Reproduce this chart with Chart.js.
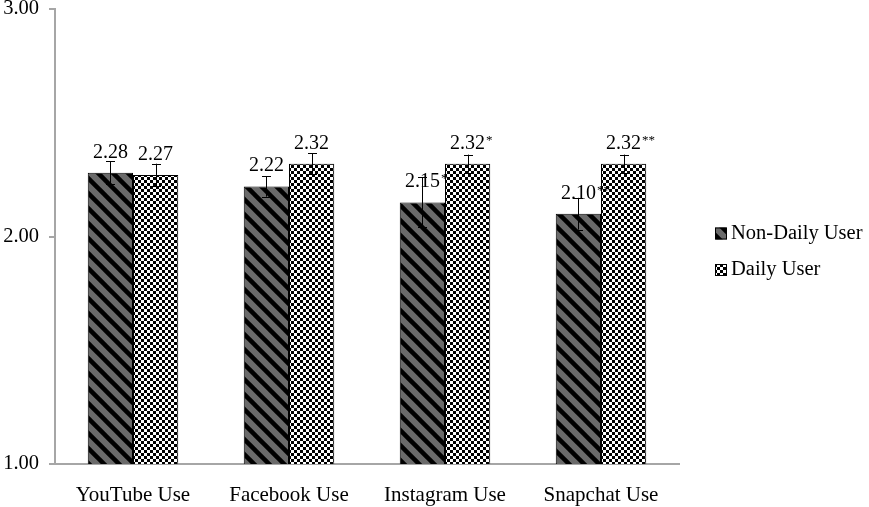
<!DOCTYPE html>
<html>
<head>
<meta charset="utf-8">
<script src="https://cdn.jsdelivr.net/npm/chart.js@4"></script>
<style>
html,body{margin:0;padding:0;background:#fff;}
#wrap{width:869px;height:507px;position:relative;}
</style>
</head>
<body>
<div id="wrap"><canvas id="c" width="869" height="507"></canvas></div>
<script>
const categories = ['YouTube Use', 'Facebook Use', 'Instagram Use', 'Snapchat Use'];
const seriesNames = ['Non-Daily User', 'Daily User'];
const nonDaily = [2.28, 2.22, 2.15, 2.10];
const daily = [2.27, 2.32, 2.32, 2.32];
const nonDailyErr = [0.05, 0.045, 0.11, 0.07];
const dailyErr = [0.05, 0.045, 0.04, 0.04];
const nonDailySig = ['', '', '*', '**'];
const dailySig = ['', '', '*', '**'];
const yTicks = [1, 2, 3];

const FONT = '"Liberation Serif", "Times New Roman", serif';

function stripePattern() {
  const s = 15;
  const c = document.createElement('canvas');
  c.width = s; c.height = s;
  const g = c.getContext('2d');
  g.fillStyle = '#6a6a6a';
  g.fillRect(0, 0, s, s);
  g.strokeStyle = '#000';
  g.lineWidth = 4.5;
  for (let k = -1; k <= 1; k++) {
    g.beginPath();
    g.moveTo(k * s - 2, -2);
    g.lineTo(k * s + s + 2, s + 2);
    g.stroke();
  }
  return g.createPattern(c, 'repeat');
}
function checkerPattern() {
  const q = 3;
  const c = document.createElement('canvas');
  c.width = q * 2; c.height = q * 2;
  const g = c.getContext('2d');
  g.fillStyle = '#fff';
  g.fillRect(0, 0, q * 2, q * 2);
  g.fillStyle = '#000';
  g.fillRect(0, 0, q, q);
  g.fillRect(q, q, q, q);
  return g.createPattern(c, 'repeat');
}
const stripes = stripePattern();
const checks = checkerPattern();

const errs = [nonDailyErr, dailyErr];
const sigs = [nonDailySig, dailySig];

const annotatePlugin = {
  id: 'annotate',
  afterDatasetsDraw(chart) {
    const ctx = chart.ctx;
    const y = chart.scales.y;
    chart.data.datasets.forEach((ds, di) => {
      const meta = chart.getDatasetMeta(di);
      meta.data.forEach((bar, i) => {
        const v = ds.data[i];
        const e = errs[di][i];
        const x = bar.x;
        const yt = y.getPixelForValue(v + e);
        const yb = y.getPixelForValue(v - e);
        ctx.save();
        ctx.strokeStyle = '#000';
        ctx.lineWidth = 1;
        ctx.beginPath();
        ctx.moveTo(Math.round(x) + 0.5, yt);
        ctx.lineTo(Math.round(x) + 0.5, yb);
        ctx.moveTo(Math.round(x) - 4, Math.round(yt) + 0.5);
        ctx.lineTo(Math.round(x) + 5, Math.round(yt) + 0.5);
        ctx.moveTo(Math.round(x) - 4, Math.round(yb) + 0.5);
        ctx.lineTo(Math.round(x) + 5, Math.round(yb) + 0.5);
        ctx.stroke();
        const txt = v.toFixed(2);
        ctx.font = '20px ' + FONT;
        ctx.fillStyle = '#000';
        ctx.textAlign = 'center';
        ctx.textBaseline = 'alphabetic';
        const by = bar.y - 15;
        ctx.fillText(txt, x, by);
        const w = ctx.measureText(txt).width;
        const s = sigs[di][i];
        if (s) {
          ctx.font = '13px ' + FONT;
          ctx.textAlign = 'left';
          ctx.fillText(s, x + w / 2 + 1, by - 5);
        }
        ctx.restore();
      });
    });
  }
};

const legendPlugin = {
  id: 'customLegend',
  afterDraw(chart) {
    const ctx = chart.ctx;
    const x0 = 715;
    const ys = [233.5, 270];
    chart.data.datasets.forEach((ds, di) => {
      const cy = ys[di];
      ctx.save();
      ctx.fillStyle = ds.backgroundColor;
      ctx.fillRect(x0, cy - 6, 12, 12);
      ctx.strokeStyle = '#000';
      ctx.lineWidth = 1;
      ctx.strokeRect(x0 + 0.5, cy - 5.5, 11, 11);
      ctx.fillStyle = '#000';
      ctx.font = '20.5px ' + FONT;
      ctx.textAlign = 'left';
      ctx.textBaseline = 'middle';
      ctx.fillText(ds.label, x0 + 16, cy);
      ctx.restore();
    });
  }
};

new Chart(document.getElementById('c'), {
  type: 'bar',
  data: {
    labels: categories,
    datasets: [
      { label: seriesNames[0], data: nonDaily, backgroundColor: stripes, borderColor: '#000', borderWidth: 1 },
      { label: seriesNames[1], data: daily, backgroundColor: checks, borderColor: '#000', borderWidth: 1 }
    ]
  },
  options: {
    responsive: false,
    animation: false,
    devicePixelRatio: 1,
    layout: { padding: { top: 0, right: 190, bottom: 0, left: 0 } },
    datasets: { bar: { categoryPercentage: 0.58, barPercentage: 1.0 } },
    plugins: {
      legend: { display: false },
      tooltip: { enabled: false }
    },
    scales: {
      x: {
        grid: { display: false, drawTicks: false },
        border: { color: '#a6a6a6', width: 2 },
        ticks: { color: '#000', font: { family: FONT, size: 21, lineHeight: 1.2 }, padding: 19 },
        afterFit(s) { s.height = 43; s.paddingLeft = 0; s.paddingRight = 0; }
      },
      y: {
        min: 1, max: 3,
        afterBuildTicks(scale) { scale.ticks = yTicks.map(v => ({ value: v })); },
        grid: { drawOnChartArea: false, color: '#a6a6a6', tickLength: 6, lineWidth: 2 },
        border: { color: '#a6a6a6', width: 2 },
        ticks: { color: '#000', font: { family: FONT, size: 20.5, lineHeight: 1 }, padding: 10, callback: v => Number(v).toFixed(2) },
        afterFit(s) { s.width = 55; s.paddingTop = 9; s.paddingBottom = 0; }
      }
    }
  },
  plugins: [annotatePlugin, legendPlugin]
});
</script>
</body>
</html>
